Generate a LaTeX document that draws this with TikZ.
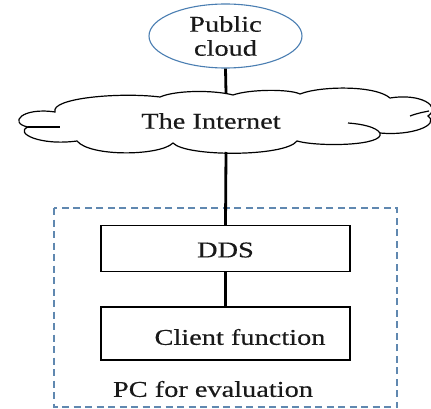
\documentclass[tikz,border=0pt]{standalone}
\usepackage{fontspec}
\setmainfont[FakeStretch=1.26, FakeBold=0.4]{Liberation Serif}
\usetikzlibrary{shapes.geometric}
\definecolor{cloudblue}{RGB}{74,126,178}
\definecolor{framegray}{RGB}{96,136,176}
\tikzset{
  txt/.style={font=\fontsize{22.5}{24}\selectfont, text=black!90},
  link/.style={draw=black, line width=2.8pt},
  stepbox/.style={draw=black, line width=1.2pt, fill=white, minimum width=249pt, inner sep=0pt},
  outline/.style={draw=black, line width=1.2pt},
}
\begin{document}
\begin{tikzpicture}[x=1pt,y=-1pt]
\useasboundingbox (0,0) rectangle (431,409);
\fill[white] (0,0) rectangle (431,409);

% evaluation PC frame
\draw[framegray, line width=1.3pt, dash pattern=on 7pt off 4.5pt] (54,208) rectangle (397,407);
\node[txt] (pclabel) at (213,389) {PC for evaluation};

% public cloud
\node[ellipse, draw=cloudblue, line width=1.1pt, fill=white, minimum width=153pt, minimum height=64pt, inner sep=0pt,
      txt, align=center] (public) at (225.5,36) {Public\\cloud};

% the Internet: cloud outline
\coordinate (inettop) at (226,93);
\coordinate (inetbot) at (226,152);
\draw[link] (public.south) -- (inettop);
\filldraw[outline, fill=white]
  (55,112) .. controls (50,98) and (120,92) .. (160,97)
  .. controls (176,90) and (214,90) .. (233,95)
  .. controls (250,89) and (290,89) .. (300,94)
  .. controls (320,86) and (375,85) .. (390,98)
  .. controls (420,93) and (442,106) .. (428,116)
  .. controls (440,125) and (412,136) .. (380,133)
  .. controls (385,146) and (318,147) .. (297,141)
  .. controls (285,157) and (186,157) .. (173,143)
  .. controls (160,156) and (90,157) .. (77,141)
  .. controls (40,146) and (14,133) .. (28,127)
  .. controls (8,123) and (22,107) .. (55,112) -- cycle;
% inner strokes of the cloud
\draw[outline] (28,127) -- (60,127);
\draw[outline] (410,116) .. controls (418,113) and (424,112) .. (429,111);
\draw[outline] (348,123) .. controls (362,124) and (376,127) .. (380,133);
\node[txt] (internet) at (211,121) {The Internet};

% PC components
\node[stepbox, minimum height=46pt] (dds) at (225.5,248.5) {};
\node[txt] (ddslabel) at (225.5,250) {DDS};
\node[stepbox, minimum height=53pt] (client) at (225.5,333.5) {};
\node[txt] (clientlabel) at (240,337) {Client function};

\draw[link] (inetbot) -- (dds.north);
\draw[link] (dds.south) -- (client.north);
\end{tikzpicture}
\end{document}
